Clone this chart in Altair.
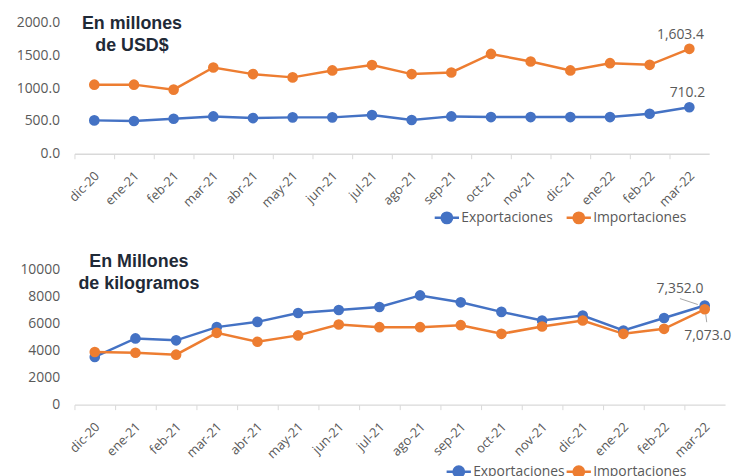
import altair as alt
import pandas as pd

months = ["dic-20", "ene-21", "feb-21", "mar-21", "abr-21", "may-21", "jun-21", "jul-21",
          "ago-21", "sep-21", "oct-21", "nov-21", "dic-21", "ene-22", "feb-22", "mar-22"]
series = ["Exportaciones", "Importaciones"]

usd_exp = [510, 500, 535, 571, 545, 556, 556, 591, 515, 571, 560, 560, 560, 560, 611, 710.2]
usd_imp = [1056, 1056, 980, 1318, 1217, 1167, 1273, 1355, 1217, 1242, 1525, 1409, 1273, 1384, 1359, 1603.4]
kg_exp = [3540, 4915, 4770, 5750, 6140, 6800, 7020, 7240, 8100, 7590, 6880, 6240, 6610, 5500, 6430, 7352.0]
kg_imp = [3906, 3854, 3707, 5328, 4665, 5136, 5947, 5748, 5748, 5895, 5254, 5800, 6242, 5254, 5623, 7073.0]

usd_ticks = [0, 500, 1000, 1500, 2000]
kg_ticks = [0, 2000, 4000, 6000, 8000, 10000]

title_usd = "En millones\nde USD$"
title_kg = "En Millones\nde kilogramos"

BLUE = "#4472C4"
ORANGE = "#ED7D31"
GRAY = "#595959"
LINEC = "#D9D9D9"
FONT = "Open Sans"

SYMBOL = ("M-1,0L1,0M0.43,0A0.43,0.43,0,1,1,-0.43,0A0.43,0.43,0,1,1,0.43,0Z")


def make_df(exp, imp):
    rows = []
    for s, vals in zip(series, [exp, imp]):
        for m, v in zip(months, vals):
            rows.append({"mes": m, "serie": s, "valor": v})
    return pd.DataFrame(rows)


def panel(exp, imp, width, height, ticks, yfmt, title, tx, ty, lx, ly, colpad, offs, leaders):
    df = make_df(exp, imp)
    xscale = alt.Scale(type="band", paddingInner=0, paddingOuter=0)
    xaxis = alt.Axis(labelAngle=-45, labelAlign="right", labelBaseline="middle",
                     bandPosition=0, labelOffset=3, labelPadding=15,
                     ticks=True, tickSize=5, tickColor=LINEC, domainColor=LINEC,
                     domainWidth=1.3, labelColor=GRAY, labelFont=FONT,
                     labelFontSize=13, grid=False)
    yscale = alt.Scale(domain=[ticks[0], ticks[-1]], nice=False)
    yaxis = alt.Axis(values=ticks, format=yfmt, domain=False, ticks=False,
                     grid=False, labelPadding=15, labelFontSize=14,
                     labelOverlap=False, labelColor=GRAY, labelFont=FONT)
    x = alt.X("mes:N", sort=months, title=None, scale=xscale, axis=xaxis)
    y = alt.Y("valor:Q", title=None, scale=yscale, axis=yaxis)
    leg = alt.Legend(title=None, orient="none", legendX=lx, legendY=ly,
                     direction="horizontal", symbolType=SYMBOL,
                     symbolSize=600, symbolStrokeWidth=2.5, symbolOpacity=1,
                     labelFontSize=14, labelColor=GRAY, labelFont=FONT,
                     columnPadding=colpad, labelOffset=1)
    cscale = alt.Scale(domain=series, range=[BLUE, ORANGE])
    stroke = alt.Stroke("serie:N", scale=cscale, legend=leg)
    fill = alt.Fill("serie:N", scale=cscale, legend=leg)
    base = alt.Chart(df)
    line = base.mark_line(strokeWidth=2.5).encode(x=x, y=y, stroke=stroke)
    pts = base.mark_circle(size=115, opacity=1).encode(x=x, y=y, fill=fill)
    layers = [line, pts]
    for s, (dx, dy) in zip(series, offs):
        layers.append(
            base.mark_text(dx=dx, dy=dy, fontSize=14, color=GRAY, font=FONT)
            .encode(x=x, y=y, text=alt.Text("valor:Q", format=",.1f"))
            .transform_filter((alt.datum.mes == months[-1]) & (alt.datum.serie == s))
        )
    for s, xo, yo, x2o, y2o in leaders:
        layers.append(
            base.mark_rule(color="#A6A6A6", strokeWidth=1, xOffset=xo, yOffset=yo,
                           x2Offset=x2o, y2Offset=y2o)
            .encode(x=alt.X("mes:N", sort=months, title=None, scale=xscale, axis=xaxis,
                            bandPosition=0.5),
                    x2=alt.X2("mes", bandPosition=0.5), y=y, y2="valor:Q")
            .transform_filter((alt.datum.mes == months[-1]) & (alt.datum.serie == s))
        )
    ttl = alt.Chart(pd.DataFrame({"t": [title]})).mark_text(
        font="Liberation Sans", fontWeight="bold", fontSize=18, color="#1F2A37",
        lineBreak="\n", lineHeight=22, align="center", baseline="alphabetic"
    ).encode(x=alt.value(tx), y=alt.value(ty), text="t:N")
    layers.append(ttl)
    return alt.layer(*layers).properties(width=width, height=height)


top = panel(usd_exp, usd_imp, 640, 132, usd_ticks, ".1f", title_usd, 58, 6,
            362, 183, 8, [(-2, -14), (-9, -14)], [])
bottom = panel(kg_exp, kg_imp, 656, 136, kg_ticks, "d", title_kg, 65, -3,
               374, 190, -4, [(-25, -17), (3, 27)],
               [("Exportaciones", -25, -7, -7, -1), ("Importaciones", 1, 5, 2, 13)])

chart = alt.vconcat(top, bottom, spacing=117, bounds="flush").resolve_scale(
    stroke="independent", fill="independent", x="independent", y="independent"
).resolve_legend(stroke="independent", fill="independent").properties(
    padding={"left": 8, "top": 5, "right": 0, "bottom": 0}
).configure_view(stroke=None)

chart.save("out.html", embed_options={"renderer": "svg", "actions": False})
